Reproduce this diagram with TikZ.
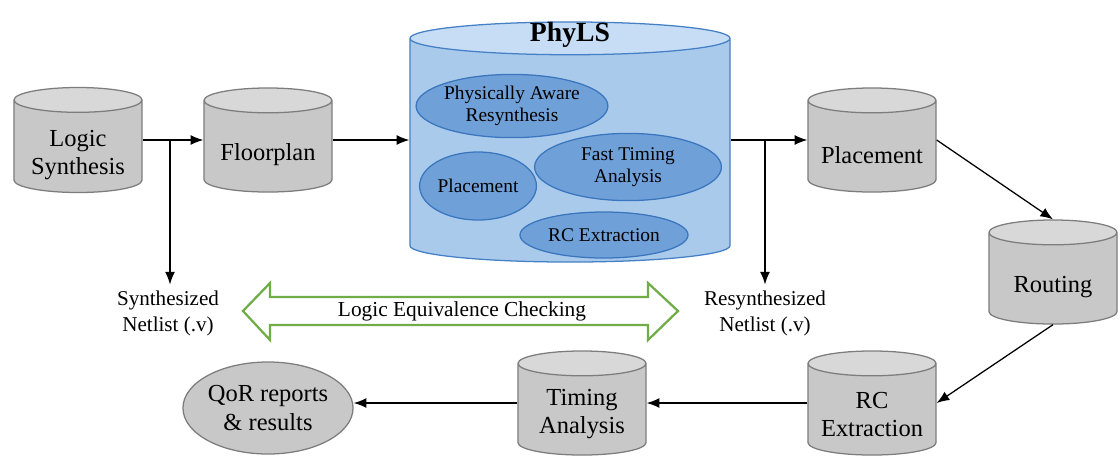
\documentclass[tikz,border=0pt]{standalone}
\usepackage{fontspec}
\setmainfont{Liberation Serif}
\usepackage{tikz}
\usetikzlibrary{arrows.meta, positioning, shapes.geometric, calc}
\definecolor{DiskGrey}{RGB}{200, 200, 200}
\definecolor{DiskTop}{RGB}{216, 216, 216}
\definecolor{DiskEdge}{RGB}{125, 125, 125}
\definecolor{ToolBlue}{RGB}{170, 202, 236}
\definecolor{ToolTop}{RGB}{198, 221, 245}
\definecolor{ToolEdge}{RGB}{68, 128, 198}
\definecolor{TaskBlue}{RGB}{112, 160, 216}
\definecolor{TaskEdge}{RGB}{58, 118, 190}
\definecolor{CheckGreen}{RGB}{112, 173, 71}
\tikzset{
  disk/.style={
    cylinder, shape border rotate=90, aspect=0.2, draw=DiskEdge,
    cylinder uses custom fill, cylinder body fill=DiskGrey,
    cylinder end fill=DiskTop, line width=0.9pt, anchor=shape center,
    minimum width=3.2cm, minimum height=2.6cm, text width=3.1cm, align=center,
    font=\fontsize{17.4}{20}\selectfont, inner sep=0pt,
    execute at begin node={\rule{0pt}{#1}}
  },
  disk/.default=24pt,
  subtask/.style={
    ellipse, draw=TaskEdge, fill=TaskBlue, line width=0.9pt,
    align=center, inner sep=0pt, font=\fontsize{13.8}{15.5}\selectfont
  },
  flow/.style={line width=0.9pt, -{Latex[length=9pt, width=7pt]}},
  netlist/.style={align=center, font=\fontsize{15}{18.5}\selectfont, inner sep=4pt},
}

\begin{document}
\begin{tikzpicture}[x=0.025cm, y=-0.025cm]
\useasboundingbox (0,0) rectangle (1120,456);

% Flow stages
\node[disk] (logic) at (78,140) {Logic\\Synthesis};
\node[disk] (floor) at (268,140) {Floorplan};
\node[disk=0pt, aspect=0.105, minimum width=8cm, minimum height=6cm, text width=7.8cm,
      draw=ToolEdge, cylinder body fill=ToolBlue, cylinder end fill=ToolTop] (phyls) at (570,142) {};
\node[font=\fontsize{19.7}{22}\selectfont\bfseries] (title) at (570,35) {PhyLS};
\node[disk] (place) at (872,140) {Placement};
\node[disk=23pt] (route) at (1053,272) {Routing};
\node[disk=18pt] (rcx) at (872,403) {RC\\Extraction};
\node[disk=18pt] (timing) at (582,403) {Timing\\Analysis};
\node[ellipse, draw=DiskEdge, fill=DiskGrey, line width=0.9pt, minimum width=4.25cm,
      minimum height=2.3cm, align=center, inner sep=0pt,
      font=\fontsize{17.4}{20}\selectfont,
      execute at begin node={\rule{0pt}{20pt}}] (qor) at (268,408) {QoR reports\\\& results};

% PhyLS engines
\node[subtask, minimum width=4.65cm, minimum height=1.58cm] (resyn) at (512,106) {Physically Aware\\Resynthesis};
\node[subtask, minimum width=2.92cm, minimum height=1.7cm] (plc) at (478,186) {Placement};
\node[subtask, minimum width=4.67cm, minimum height=1.68cm] (fta) at (628,167) {Fast Timing\\Analysis};
\node[subtask, minimum width=4.2cm, minimum height=1.15cm] (rce) at (604,235) {RC Extraction};

% Netlists
\node[netlist] (synnet) at (168,313) {Synthesized\\Netlist (.v)};
\node[netlist] (resynnet) at (765,313) {Resynthesized\\Netlist (.v)};

% Connectors
\draw[flow] (logic.east |- logic.shape center) -- (floor.west |- logic.shape center);
\draw[flow] (floor.east |- floor.shape center) -- (phyls.west |- floor.shape center);
\draw[flow] (phyls.east |- place.shape center) -- (place.west |- place.shape center);
\draw[flow] (place.east |- place.shape center) -- (route.north);
\draw[flow] (route.south) -- (rcx.east |- rcx.shape center);
\draw[flow] (rcx.west |- rcx.shape center) -- (timing.east |- rcx.shape center);
\draw[flow] (timing.west |- timing.shape center) -- (qor.east |- timing.shape center);
\coordinate (syntap) at (170,140);
\coordinate (resyntap) at (765,140);
\draw[flow] (syntap) -- (syntap |- synnet.north);
\draw[flow] (resyntap) -- (resyntap |- resynnet.north);

% Equivalence check
\draw[CheckGreen, line width=1.6pt, line join=miter]
  (243,311) -- (270,283) -- (270,297) -- (648,297) -- (648,283) -- (678,311)
  -- (648,340) -- (648,325) -- (270,325) -- (270,340) -- cycle;
\node[font=\fontsize{15.2}{18}\selectfont] (lec) at (462,311) {Logic Equivalence Checking};
\end{tikzpicture}
\end{document}
